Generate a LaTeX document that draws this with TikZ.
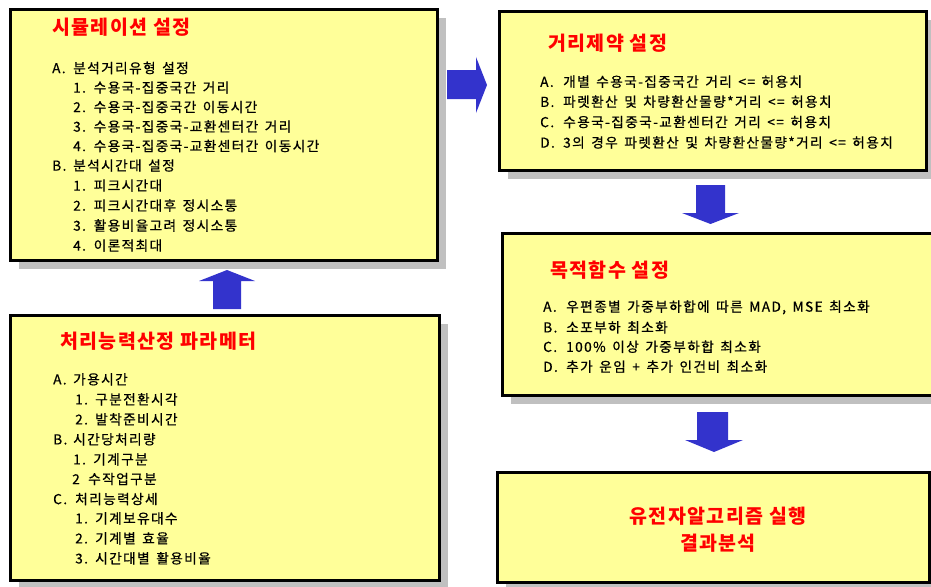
\documentclass[tikz,border=0pt]{standalone}
\usepackage{fontspec}
\newfontfamily\kr[LetterSpace=7]{Noto Sans CJK KR}
\newfontfamily\kritem[LetterSpace=10,FakeBold=0.6]{Noto Sans CJK KR}
\usetikzlibrary{shadows}
\definecolor{boxyellow}{HTML}{FFFF99}
\definecolor{shadowgray}{HTML}{C0C0C0}
\definecolor{arrowblue}{HTML}{3333CC}
\newcommand\lbl[2]{\makebox[#1][l]{#2}}
\newcommand\itemfont{\kritem\fontsize{13.7}{16}\selectfont\spaceskip 6.5pt\relax}
\begin{document}
\begin{tikzpicture}[x=1pt,y=-1pt,
  box/.style={draw=black, line width=3pt, fill=boxyellow, inner sep=0pt,
    drop shadow={shadow xshift=8.5pt, shadow yshift=-8.5pt, fill=shadowgray, opacity=1}},
  titletext/.style={anchor=west, inner sep=0pt, text=red, font=\kr\bfseries\fontsize{19.5}{22}\selectfont},
  gatext/.style={align=center, inner sep=0pt, text=red, font=\kr\bfseries\fontsize{19.5}{27}\selectfont},
  item/.style={anchor=west, inner sep=0pt, text=black, font=\itemfont},
  blockarrow/.style={fill=arrowblue}
]
\useasboundingbox (0,0) rectangle (931,586);
\clip (0,0) rectangle (931,586);

% block arrows
\fill[blockarrow] (447,70) -- (476,70) -- (476,57) -- (487,85) -- (476,113) -- (476,99) -- (447,99) -- cycle;
\fill[blockarrow] (696,185) -- (725,185) -- (725,213) -- (739,213) -- (710.5,224) -- (682,213) -- (696,213) -- cycle;
\fill[blockarrow] (213,309) -- (213,281) -- (199,281) -- (227,270) -- (255,281) -- (241,281) -- (241,309) -- cycle;
\fill[blockarrow] (697,412) -- (728,412) -- (728,440) -- (743,440) -- (714,452) -- (685,440) -- (697,440) -- cycle;

% boxes
\node[box, minimum width=427pt, minimum height=250pt] (sim) at (223.5,135) {};
\node[box, minimum width=429pt, minimum height=265pt] (param) at (224.5,447.5) {};
\node[box, minimum width=427pt, minimum height=158pt] (dist) at (712.5,91) {};
\node[box, minimum width=443pt, minimum height=162pt] (obj) at (723.5,314) {};
\node[box, minimum width=432pt, minimum height=110pt] (ga) at (713,527) {};

% simulation box
\node[titletext] (simt) at (52,27) {시뮬레이션 설정};
\node[item] (s1) at (52,68) {\lbl{21pt}{A.}분석거리유형 설정};
\node[item] (s2) at (73,87.5) {\lbl{20.5pt}{1.}수용국-집중국간 거리};
\node[item] (s3) at (73,107) {\lbl{20.5pt}{2.}수용국-집중국간 이동시간};
\node[item] (s4) at (73,126.5) {\lbl{20.5pt}{3.}수용국-집중국-교환센터간 거리};
\node[item] (s5) at (73,146) {\lbl{20.5pt}{4.}수용국-집중국-교환센터간 이동시간};
\node[item] (s6) at (52,165.5) {\lbl{21pt}{B.}분석시간대 설정};
\node[item] (s7) at (73,185.5) {\lbl{20.5pt}{1.}피크시간대};
\node[item] (s8) at (73,205.5) {\lbl{20.5pt}{2.}피크시간대후 정시소통};
\node[item] (s9) at (73,225.5) {\lbl{20.5pt}{3.}활용비율고려 정시소통};
\node[item] (s10) at (73,245.5) {\lbl{20.5pt}{4.}이론적최대};

% parameter box
\node[titletext] (part) at (60,341) {처리능력산정 파라메터};
\node[item] (p1) at (53,379.3) {\lbl{20pt}{A.}가용시간};
\node[item] (p2) at (75,399.3) {\lbl{20pt}{1.}구분전환시각};
\node[item] (p3) at (75,419.3) {\lbl{20pt}{2.}발착준비시간};
\node[item] (p4) at (53,439.3) {\lbl{20pt}{B.}시간당처리량};
\node[item] (p5) at (73,459.3) {\lbl{20pt}{1.}기계구분};
\node[item] (p6) at (72,479) {\lbl{16pt}{2}수작업구분};
\node[item] (p7) at (53,499) {\lbl{22pt}{C.}처리능력상세};
\node[item] (p8) at (75,518.3) {\lbl{20pt}{1.}기계보유대수};
\node[item] (p9) at (75,538.3) {\lbl{20pt}{2.}기계별 효율};
\node[item] (p10) at (75,558.3) {\lbl{20pt}{3.}시간대별 활용비율};

% distance constraint box
\node[titletext] (distt) at (548,43) {거리제약 설정};
\node[item] (d1) at (540,81.7) {\lbl{23pt}{A.}개별 수용국-집중국간 거리 <= 허용치};
\node[item] (d2) at (540,101.7) {\lbl{23pt}{B.}파렛환산 및 차량환산물량*거리 <= 허용치};
\node[item] (d3) at (540,122) {\lbl{23pt}{C.}수용국-집중국-교환센터간 거리 <= 허용치};
\node[item] (d4) at (540,142.5) {\lbl{23pt}{D.}3의 경우 파렛환산 및 차량환산물량*거리 <= 허용치};

% objective box
\node[titletext] (objt) at (550,270) {목적함수 설정};
\node[item] (o1) at (543,307.3) {\lbl{23pt}{A.}우편종별 가중부하합에 따른 MAD, MSE 최소화};
\node[item] (o2) at (543,327.3) {\lbl{23pt}{B.}소포부하 최소화};
\node[item] (o3) at (543,346.7) {\lbl{23pt}{C.}100\% 이상 가중부하합 최소화};
\node[item] (o4) at (543,366.7) {\lbl{23pt}{D.}추가 운임 + 추가 인건비 최소화};

% GA box
\node[gatext] (gat) at (718,530) {유전자알고리즘 실행\\결과분석};
\end{tikzpicture}
\end{document}
